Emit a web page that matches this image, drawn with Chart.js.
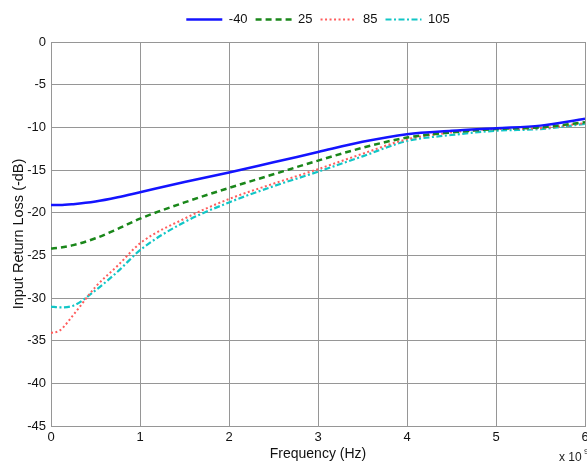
<!DOCTYPE html>
<html>
<head>
<meta charset="utf-8">
<script src="https://cdn.jsdelivr.net/npm/chart.js@4/dist/chart.umd.min.js"></script>
<style>
  html, body { margin: 0; padding: 0; background: #fff; }
  #wrap { width: 587px; height: 461px; position: relative; }
</style>
</head>
<body>
<div id="wrap"><canvas id="chart"></canvas></div>
<script>
// Frequency (x 10^9 Hz) and input return loss per temperature
const freq = [0, 0.1, 0.25, 0.5, 0.75, 1, 1.5, 2, 2.5, 3, 3.5, 4, 4.5, 5, 5.5, 6];
const lossM40 = [-19.1, -19.1, -19.0, -18.7, -18.2, -17.6, -16.4, -15.3, -14.1, -12.9, -11.7, -10.8, -10.4, -10.1, -9.8, -9.0];
const loss25 = [-24.2, -24.1, -23.8, -23.0, -21.9, -20.7, -18.8, -17.1, -15.5, -13.9, -12.4, -11.2, -10.6, -10.2, -10.0, -9.4];
const loss85 = [-34.1, -33.8, -32.0, -28.7, -26.2, -23.6, -20.7, -18.4, -16.6, -14.9, -13.1, -11.4, -10.6, -10.2, -10.1, -9.5];
const loss105 = [-31.0, -31.1, -30.9, -29.1, -26.9, -24.4, -21.1, -18.8, -16.9, -15.2, -13.4, -11.6, -10.9, -10.4, -10.2, -9.6];
const xTicks = [0, 1, 2, 3, 4, 5, 6];
const yTicks = [0, -5, -10, -15, -20, -25, -30, -35, -40, -45];

const FONT = 'Liberation Sans, Arial, sans-serif';
const GRID = '#969696';

function toPoints(values) {
    return freq.map((f, i) => ({ x: f, y: values[i] }));
}

function series(label, values, color, width, dash) {
    return {
        label,
        data: toPoints(values),
        borderColor: color,
        backgroundColor: color,
        borderWidth: width,
        borderDash: dash,
        pointRadius: 0,
        cubicInterpolationMode: 'monotone',
        fill: false,
    };
}

// legend samples drawn as short lines with the dataset's dash pattern
function legendLabels(chart) {
    return chart.data.datasets.map((ds, i) => ({
        text: ds.label,
        datasetIndex: i,
        fillStyle: ds.borderColor,
        strokeStyle: ds.borderColor,
        lineWidth: ds.borderWidth,
        lineDash: ds.borderDash,
        pointStyle: 'line',
        fontColor: '#111',
        hidden: false,
    }));
}

// a little extra room between legend and plot, plus the "x 10^9" multiplier
const layoutExtras = {
    id: 'layoutExtras',
    afterInit(chart) {
        const legend = chart.legend;
        const fit = legend.fit.bind(legend);
        legend.fit = () => { fit(); legend.height += 6; };
    },
    afterDraw(chart) {
        const ctx = chart.ctx;
        ctx.save();
        ctx.fillStyle = '#222';
        ctx.textBaseline = 'alphabetic';
        ctx.font = '12px ' + FONT;
        ctx.fillText('x 10', 559, 461);
        ctx.font = '8px ' + FONT;
        ctx.fillText('9', 584, 454);
        ctx.restore();
    }
};

new Chart(document.getElementById('chart'), {
    type: 'line',
    data: {
        datasets: [
            series('-40', lossM40, '#1414ff', 2.5, []),
            series('25', loss25, '#1a871a', 2.5, [6, 4]),
            series('85', loss85, '#ff5c5c', 2, [2, 2.5]),
            series('105', loss105, '#12c6c6', 2.2, [6, 2.5, 2, 2.5]),
        ]
    },
    options: {
        responsive: true,
        maintainAspectRatio: false,
        animation: false,
        layout: { padding: { top: 5, right: 2, bottom: 0, left: 0 } },
        plugins: {
            legend: {
                position: 'top',
                fullSize: false,
                labels: {
                    usePointStyle: true,
                    pointStyleWidth: 36,
                    boxHeight: 13,
                    padding: 8,
                    color: '#111',
                    font: { family: FONT, size: 13 },
                    generateLabels: legendLabels,
                }
            },
            tooltip: { enabled: false },
        },
        scales: {
            x: {
                type: 'linear',
                min: 0,
                max: 6,
                afterBuildTicks: (scale) => { scale.ticks = xTicks.map(v => ({ value: v })); },
                afterFit: (scale) => {
                    scale.height = 35;
                    scale.paddingLeft = 0;
                    scale.paddingRight = 0;
                },
                ticks: {
                    color: '#111',
                    padding: 4,
                    maxRotation: 0,
                    font: { family: FONT, size: 13 },
                },
                grid: { color: GRID, lineWidth: 1, drawTicks: false },
                border: { color: GRID },
                title: {
                    display: true,
                    text: 'Frequency (Hz)',
                    color: '#111',
                    padding: { top: 2, bottom: -2 },
                    font: { family: FONT, size: 14 },
                }
            },
            y: {
                min: -45,
                max: 0,
                afterBuildTicks: (scale) => { scale.ticks = yTicks.map(v => ({ value: v })); },
                afterFit: (scale) => { scale.width = 51; },
                ticks: {
                    color: '#111',
                    padding: 5,
                    font: { family: FONT, size: 13 },
                },
                grid: { color: GRID, lineWidth: 1, drawTicks: false },
                border: { color: GRID },
                title: {
                    display: true,
                    text: 'Input Return Loss (-dB)',
                    color: '#111',
                    padding: { top: 10, bottom: 0 },
                    font: { family: FONT, size: 14.5 },
                }
            }
        }
    },
    plugins: [layoutExtras]
});
</script>
</body>
</html>
